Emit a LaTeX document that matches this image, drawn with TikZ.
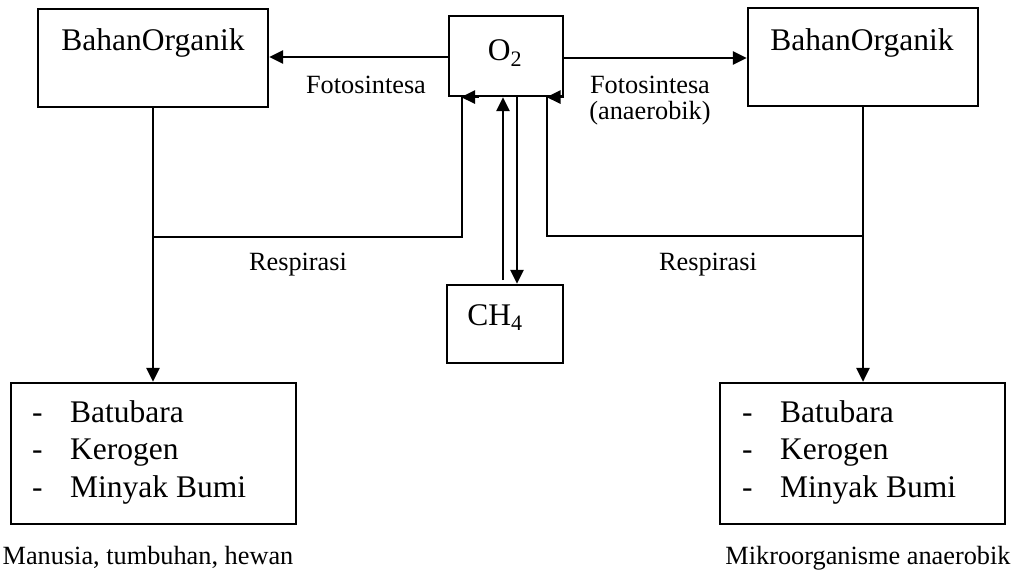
\documentclass[tikz,border=0pt]{standalone}
\usepackage{fontspec}
\setmainfont{Liberation Serif}
\usetikzlibrary{arrows.meta}
\tikzset{
  box/.style={draw, line width=2.2pt, inner sep=0pt},
  con/.style={line width=2.6pt},
  arr/.style={con, -{Triangle[length=14pt,width=13pt]}},
  big/.style={font=\fontsize{31.5}{37.5}\selectfont, inner sep=0pt, anchor=base},
  small/.style={font=\fontsize{26.3}{26}\selectfont, inner sep=0pt, anchor=base},
}
\begin{document}
\begin{tikzpicture}[x=1pt,y=-1pt]
\useasboundingbox (0,0) rectangle (1014,573);
% boxes
\node[box, minimum width=230pt, minimum height=98pt] (lt) at (153,58) {};
\node[box, minimum width=114pt, minimum height=80pt] (o2) at (506,56) {};
\node[box, minimum width=230pt, minimum height=98pt] (rt) at (863,57) {};
\node[box, minimum width=116pt, minimum height=78pt] (ch4) at (505,324) {};
\node[box, minimum width=285pt, minimum height=141pt] (lb) at (153.5,453.5) {};
\node[box, minimum width=285pt, minimum height=141pt] (rb) at (862.5,453.5) {};
% box texts
\node[big] (ltt) at (153,50) {BahanOrganik};
\node[big] (rtt) at (862,50) {BahanOrganik};
\node[big] (o2t) at (505,60) {O\textsubscript{2}};
\node[big] (ch4t) at (495,325) {CH\textsubscript{4}};
\node[big, anchor=base west] (lbd1) at (32,422) {-};
\node[big, anchor=base west] (lbd2) at (32,459) {-};
\node[big, anchor=base west] (lbd3) at (32,497) {-};
\node[big, anchor=base west] (lb1) at (70,422) {Batubara};
\node[big, anchor=base west] (lb2) at (70,459) {Kerogen};
\node[big, anchor=base west] (lb3) at (70,497) {Minyak Bumi};
\node[big, anchor=base west] (rbd1) at (742,422) {-};
\node[big, anchor=base west] (rbd2) at (742,459) {-};
\node[big, anchor=base west] (rbd3) at (742,497) {-};
\node[big, anchor=base west] (rb1) at (780,422) {Batubara};
\node[big, anchor=base west] (rb2) at (780,459) {Kerogen};
\node[big, anchor=base west] (rb3) at (780,497) {Minyak Bumi};
% labels
\node[small] (fl) at (366,93) {Fotosintesa};
\node[small] (fr1) at (650,93) {Fotosintesa};
\node[small] (fr2) at (650,119) {(anaerobik)};
\node[small] (rl1) at (298,270) {Respirasi};
\node[small] (rr1) at (708,270) {Respirasi};
\node[small] (cl) at (148,564) {Manusia, tumbuhan, hewan};
\node[small] (cr) at (868,564) {Mikroorganisme anaerobik};
% connectors
\draw[arr] (o2.west |- 0,57) -- (lt.east |- 0,57);
\draw[arr] (o2.east |- 0,58) -- (rt.west |- 0,58);
\draw[arr] (lt.south) -- (lt.south |- lb.north);
\draw[arr] (rt.south) -- (rt.south |- rb.north);
\coordinate (rl) at (462,237);
\coordinate (rr) at (547,236);
\draw[con] (lt.south |- rl) -- (rl) -- (rl |- o2.south);
\draw[arr] ([xshift=17pt]rl |- o2.south) -- ([xshift=-1pt]rl |- o2.south);
\draw[con] (rt.south |- rr) -- (rr) -- (rr |- o2.south);
\draw[arr] (o2.south east) -- ([xshift=-0.5pt]rr |- o2.south);
\coordinate (up0) at (503,280);
\draw[arr] (up0) -- (up0 |- o2.south);
\coordinate (dn0) at (517,96);
\draw[arr] (dn0 |- o2.south) -- (dn0 |- ch4.north);
\end{tikzpicture}
\end{document}
